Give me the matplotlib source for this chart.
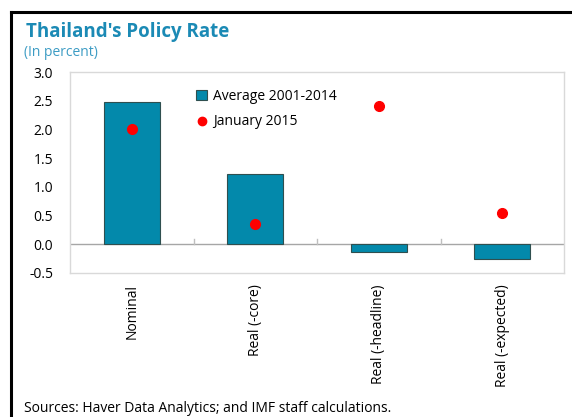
import numpy as np
import matplotlib
matplotlib.use("Agg")
import matplotlib.pyplot as plt
from matplotlib.lines import Line2D

categories = ["Nominal", "Real (-core)", "Real (-headline)", "Real (-expected)"]
average_2001_2014 = [2.48, 1.22, -0.14, -0.26]
january_2015 = [2.00, 0.36, 2.41, 0.55]

plt.rcParams['font.family'] = ['Open Sans', 'DejaVu Sans']

W, H = 572, 417
fig = plt.figure(figsize=(W/100, H/100), dpi=100)
ax = fig.add_axes([70/W, 1-273/H, (564-70)/W, (273-72)/H])

x = np.arange(len(categories))
teal = "#0389AB"
bars = ax.bar(x, average_2001_2014, width=0.45, color=teal, edgecolor="#2F4F4F",
              linewidth=0.8, label="Average 2001-2014", zorder=2)
dots, = ax.plot(x, january_2015, "o", color="#FF0000", markersize=7,
                label="January 2015", zorder=3)

ax.set_xlim(-0.5, len(categories)-0.5)
ax.set_ylim(-0.5, 3.0)
ax.set_yticks(np.arange(-0.5, 3.01, 0.5))
ax.set_yticklabels(["%.1f" % v for v in np.arange(-0.5, 3.01, 0.5)], fontsize=10)
ax.tick_params(axis="y", length=0, pad=12)

ax.set_xticks(x)
ax.set_xticklabels(categories, rotation=90, fontsize=10, va="top")
ax.tick_params(axis="x", length=0, pad=8)

# zero line with small category separators
ax.axhline(0, color="#A6A6A6", linewidth=1, zorder=1)
for b in x[:-1] + 0.5:
    ax.plot([b, b], [0, 0.09], color="#BFBFBF", linewidth=1, zorder=1)

for s in ax.spines.values():
    s.set_color("#D9D9D9")
    s.set_linewidth(1)

leg = ax.legend([bars, dots], ["Average 2001-2014", "January 2015"],
                loc="upper left", bbox_to_anchor=(196/W, 1-89/H),
                bbox_transform=fig.transFigure, frameon=False,
                fontsize=10, handlelength=0.8, handletextpad=0.4,
                labelspacing=0.75, borderaxespad=0, borderpad=0)
for h in leg.legend_handles:
    if hasattr(h, "set_markersize"):
        h.set_markersize(6)

fig.text(26/W, 1-32/H, "Thailand's Policy Rate", fontsize=13.5, fontweight="bold",
         color="#1B8AB5", va="center", ha="left")
fig.text(24/W, 1-53/H, "(In percent)", fontsize=10, color="#3D9CC4",
         va="center", ha="left")
fig.text(24/W, 1-408/H, "Sources: Haver Data Analytics; and IMF staff calculations.",
         fontsize=10, color="black", va="center", ha="left")

# outer frame (top and left)
fig.add_artist(Line2D([11/W, 1], [1-12/H, 1-12/H], color="black", linewidth=2.2))
fig.add_artist(Line2D([11/W, 11/W], [0, 1-12/H], color="black", linewidth=2.2))

fig.savefig("out.png", dpi=100)
